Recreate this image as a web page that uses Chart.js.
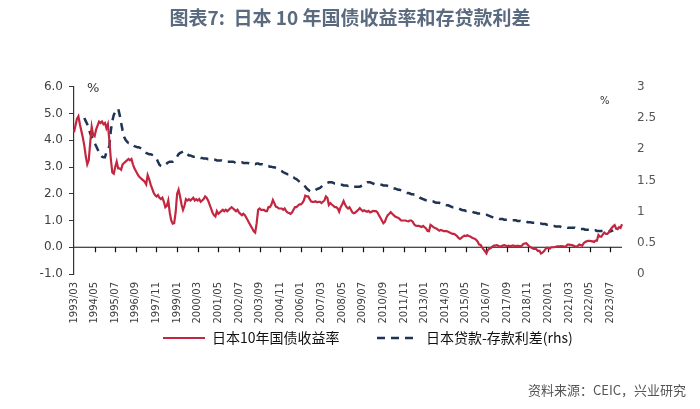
<!DOCTYPE html>
<html>
<head>
<meta charset="utf-8">
<script src="https://cdn.jsdelivr.net/npm/chart.js@4.4.0/dist/chart.umd.min.js"></script>
<style>
  html, body { margin: 0; padding: 0; background: #fff; }
</style>
</head>
<body>
<canvas id="chart" width="700" height="409"></canvas>
<script>
// 月度类别：1993/03 - 2024/03
const months = [];
for (let y = 1993, m = 3; months.length < 373; m++) {
  if (m > 12) { m = 1; y++; }
  months.push(y + '/' + String(m).padStart(2, '0'));
}
// 每 14 个月显示一个刻度标签
const tickEvery = 14;

// 日本10年国债收益率 (%, 左轴)，按年分行
const jgb10y = [
  4.3, 4.55, 4.8, 4.9, 4.6, 4.35, 4.1, 3.8, 3.4, 3.1,                     // 1993/03-12
  3.25, 3.9, 4.5, 4.2, 4.15, 4.4, 4.55, 4.7, 4.65, 4.7, 4.6, 4.65,        // 1994
  4.45, 4.6, 4.0, 3.3, 2.8, 2.75, 3.0, 3.2, 2.95, 2.95, 2.9, 3.1,         // 1995
  3.15, 3.2, 3.25, 3.3, 3.25, 3.3, 3.1, 2.95, 2.85, 2.75, 2.65, 2.6,      // 1996
  2.55, 2.5, 2.45, 2.35, 2.7, 2.55, 2.35, 2.2, 2.05, 1.95, 1.9, 1.95,     // 1997
  1.85, 1.8, 1.85, 1.7, 1.5, 1.55, 1.75, 1.3, 1.0, 0.88, 0.9, 1.3,        // 1998
  2.0, 2.15, 1.9, 1.6, 1.4, 1.55, 1.8, 1.75, 1.8, 1.75, 1.8, 1.85,        // 1999
  1.75, 1.8, 1.75, 1.8, 1.7, 1.75, 1.8, 1.9, 1.85, 1.75, 1.6, 1.45,       // 2000
  1.3, 1.2, 1.15, 1.35, 1.25, 1.3, 1.35, 1.4, 1.35, 1.4, 1.35, 1.4,       // 2001
  1.45, 1.5, 1.45, 1.4, 1.35, 1.4, 1.3, 1.25, 1.2, 1.25, 1.2, 1.1,        // 2002
  1.0, 0.9, 0.8, 0.7, 0.6, 0.55, 0.9, 1.4, 1.45, 1.4, 1.4, 1.4,           // 2003
  1.35, 1.35, 1.5, 1.5, 1.6, 1.77, 1.65, 1.52, 1.5, 1.45, 1.45, 1.45,     // 2004
  1.4, 1.45, 1.35, 1.3, 1.28, 1.25, 1.3, 1.4, 1.5, 1.5, 1.55, 1.6,        // 2005
  1.6, 1.65, 1.75, 1.93, 1.9, 1.9, 1.8, 1.71, 1.7, 1.7, 1.72, 1.68,       // 2006
  1.7, 1.7, 1.65, 1.7, 1.75, 1.9, 1.85, 1.58, 1.65, 1.6, 1.55, 1.5,       // 2007
  1.5, 1.45, 1.33, 1.5, 1.6, 1.73, 1.6, 1.5, 1.45, 1.5, 1.4, 1.3,         // 2008
  1.27, 1.3, 1.35, 1.4, 1.46, 1.4, 1.35, 1.38, 1.35, 1.33, 1.36, 1.3,     // 2009
  1.33, 1.36, 1.35, 1.35, 1.3, 1.2, 1.1, 1.0, 0.9, 0.95, 1.1, 1.2,        // 2010
  1.25, 1.31, 1.25, 1.2, 1.15, 1.12, 1.1, 1.06, 1.0, 1.0, 1.0, 1.0,       // 2011
  0.98, 0.97, 1.0, 1.0, 0.95, 0.85, 0.81, 0.8, 0.8, 0.78, 0.76, 0.8,      // 2012
  0.75, 0.7, 0.61, 0.6, 0.84, 0.8, 0.75, 0.72, 0.7, 0.66, 0.62, 0.65,     // 2013
  0.63, 0.6, 0.6, 0.6, 0.58, 0.55, 0.52, 0.5, 0.5, 0.46, 0.42, 0.35,      // 2014
  0.31, 0.35, 0.4, 0.43, 0.42, 0.45, 0.42, 0.4, 0.36, 0.34, 0.32, 0.28,   // 2015
  0.21, 0.1, 0.09, 0.0, -0.08, -0.15, -0.23, -0.1, -0.05, -0.03, 0.02, 0.06, // 2016
  0.06, 0.08, 0.06, 0.02, 0.04, 0.06, 0.08, 0.06, 0.04, 0.06, 0.04, 0.05, // 2017
  0.07, 0.05, 0.04, 0.05, 0.05, 0.03, 0.06, 0.12, 0.14, 0.15, 0.09, 0.03, // 2018
  0.0, -0.03, -0.06, -0.05, -0.08, -0.14, -0.13, -0.23, -0.2, -0.15, -0.07, -0.02, // 2019
  -0.02, -0.05, 0.0, 0.0, 0.0, 0.02, 0.03, 0.03, 0.03, 0.04, 0.03, 0.02,  // 2020
  0.04, 0.1, 0.1, 0.09, 0.08, 0.06, 0.04, 0.02, 0.05, 0.1, 0.08, 0.06,    // 2021
  0.15, 0.2, 0.22, 0.24, 0.24, 0.23, 0.22, 0.2, 0.25, 0.25, 0.46, 0.4,    // 2022
  0.4, 0.48, 0.55, 0.5, 0.5, 0.55, 0.65, 0.72, 0.78, 0.83, 0.7, 0.68,     // 2023
  0.75, 0.72, 0.86                                                        // 2024/01-03
];

// 日本贷款-存款利差 (%, 右轴)
const loanDepositSpread = [
  null, null, null, null, null, null, null, 2.5, 2.45, 2.4,                // 1993/03-12
  2.35, 2.25, 2.2, 2.15, 2.1, 2.05, 2.0, 1.95, 1.9, 1.88, 1.87, 1.87,     // 1994
  1.95, 2.0, 2.05, 2.3, 2.45, 2.55, 2.6, 2.62, 2.65, 2.55, 2.42, 2.3,     // 1995
  2.2, 2.15, 2.12, 2.1, 2.1, 2.08, 2.07, 2.05, 2.04, 2.03, 2.03, 2.02,    // 1996
  2.0, 1.98, 1.96, 1.94, 1.93, 1.92, 1.92, 1.91, 1.9, 1.88, 1.85, 1.8,    // 1997
  1.75, 1.73, 1.72, 1.73, 1.75, 1.77, 1.79, 1.8, 1.8, 1.8, 1.82, 1.85,    // 1998
  1.88, 1.92, 1.94, 1.95, 1.96, 1.97, 1.95, 1.92, 1.9, 1.9, 1.89, 1.88,   // 1999
  1.88, 1.87, 1.87, 1.87, 1.86, 1.86, 1.85, 1.85, 1.85, 1.84, 1.84, 1.84, // 2000
  1.83, 1.83, 1.83, 1.82, 1.82, 1.82, 1.82, 1.81, 1.81, 1.81, 1.8, 1.8,   // 2001
  1.8, 1.8, 1.8, 1.79, 1.8, 1.8, 1.8, 1.79, 1.79, 1.78, 1.78, 1.78,       // 2002
  1.78, 1.77, 1.77, 1.77, 1.77, 1.76, 1.77, 1.77, 1.76, 1.76, 1.76, 1.75, // 2003
  1.74, 1.73, 1.73, 1.72, 1.72, 1.71, 1.71, 1.7, 1.69, 1.67, 1.66, 1.65,  // 2004
  1.63, 1.62, 1.61, 1.6, 1.6, 1.58, 1.56, 1.55, 1.53, 1.52, 1.5, 1.48,    // 2005
  1.46, 1.44, 1.42, 1.4, 1.37, 1.35, 1.33, 1.32, 1.32, 1.33, 1.35, 1.36,  // 2006
  1.37, 1.38, 1.4, 1.42, 1.44, 1.45, 1.46, 1.47, 1.47, 1.47, 1.46, 1.45,  // 2007
  1.45, 1.44, 1.44, 1.43, 1.43, 1.42, 1.42, 1.42, 1.41, 1.42, 1.41, 1.41, // 2008
  1.4, 1.4, 1.4, 1.4, 1.4, 1.41, 1.42, 1.44, 1.46, 1.47, 1.47, 1.47,      // 2009
  1.46, 1.45, 1.44, 1.44, 1.43, 1.43, 1.43, 1.43, 1.42, 1.42, 1.42, 1.41, // 2010
  1.4, 1.39, 1.38, 1.37, 1.37, 1.36, 1.35, 1.35, 1.34, 1.33, 1.32, 1.31,  // 2011
  1.3, 1.3, 1.29, 1.28, 1.28, 1.27, 1.27, 1.26, 1.24, 1.22, 1.21, 1.2,    // 2012
  1.19, 1.18, 1.18, 1.17, 1.17, 1.16, 1.16, 1.15, 1.14, 1.14, 1.14, 1.13, // 2013
  1.12, 1.12, 1.11, 1.1, 1.1, 1.09, 1.08, 1.07, 1.07, 1.06, 1.06, 1.05,   // 2014
  1.04, 1.03, 1.02, 1.02, 1.01, 1.01, 1.0, 1.0, 1.0, 0.99, 0.98, 0.98,    // 2015
  0.97, 0.97, 0.97, 0.96, 0.96, 0.95, 0.95, 0.94, 0.93, 0.92, 0.91, 0.9,  // 2016
  0.9, 0.89, 0.89, 0.88, 0.88, 0.88, 0.87, 0.87, 0.87, 0.87, 0.87, 0.86,  // 2017
  0.86, 0.86, 0.86, 0.85, 0.85, 0.85, 0.84, 0.84, 0.84, 0.84, 0.83, 0.83, // 2018
  0.83, 0.82, 0.82, 0.82, 0.81, 0.81, 0.81, 0.81, 0.8, 0.8, 0.8, 0.79,    // 2019
  0.79, 0.78, 0.78, 0.77, 0.77, 0.76, 0.76, 0.76, 0.76, 0.75, 0.75, 0.75, // 2020
  0.75, 0.74, 0.74, 0.74, 0.74, 0.74, 0.74, 0.73, 0.73, 0.73, 0.72, 0.72, // 2021
  0.72, 0.71, 0.71, 0.71, 0.71, 0.7, 0.7, 0.7, 0.7, 0.69, 0.69, 0.69,     // 2022
  0.69, 0.69, 0.68, 0.68, 0.68, 0.68, 0.68, 0.69, 0.7, null, null, null,  // 2023
  null, null, null                                                        // 2024/01-03
];

const seriesNames = ['日本10年国债收益率', '日本贷款-存款利差(rhs)'];
const titleText = '图表7:  日本 10 年国债收益率和存贷款利差';
const sourceText = '资料来源：CEIC，兴业研究';

const CJK = '"Noto Sans CJK SC", "Noto Sans", sans-serif';
const NUM = '"DejaVu Sans", sans-serif';

// 零轴线、刻度、单位和图例/来源文字
const decor = {
  id: 'decor',
  beforeDatasetsDraw(chart) {
    const { ctx, chartArea, scales: { x, y } } = chart;
    const y0 = y.getPixelForValue(0);
    ctx.save();
    ctx.strokeStyle = '#111';
    ctx.lineWidth = 1.2;
    ctx.beginPath();
    ctx.moveTo(chartArea.left, y0);
    ctx.lineTo(chartArea.right, y0);
    months.forEach((m, i) => {
      if (i % tickEvery === 0 && i > 0) {
        const px = Math.round(x.getPixelForValue(i)) + 0.5;
        ctx.moveTo(px, y0);
        ctx.lineTo(px, y0 + 5);
      }
    });
    ctx.stroke();
    ctx.restore();
  },
  afterDraw(chart) {
    const { ctx } = chart;
    ctx.save();
    // 单位
    ctx.fillStyle = '#333';
    ctx.font = '13px ' + NUM;
    ctx.textBaseline = 'middle';
    ctx.fillText('%', 87, 89);
    ctx.font = '10px ' + NUM;
    ctx.fillText('%', 600, 101);

    // 图例
    const ly = 338;
    const items = [
      { ds: 0, x: 163 },
      { ds: 1, x: 377 }
    ];
    items.forEach(it => {
      const ds = chart.data.datasets[it.ds];
      ctx.strokeStyle = ds.borderColor;
      ctx.lineWidth = ds.borderWidth;
      ctx.setLineDash(ds.borderDash || []);
      ctx.beginPath();
      ctx.moveTo(it.x, ly);
      ctx.lineTo(it.x + 42, ly);
      ctx.stroke();
      ctx.setLineDash([]);
      ctx.fillStyle = '#111';
      ctx.font = '14px ' + CJK;
      ctx.textAlign = 'left';
      ctx.fillText(ds.label, it.x + 49, ly);
    });

    // 资料来源
    ctx.font = '13px ' + CJK;
    ctx.fillStyle = '#555';
    ctx.textAlign = 'right';
    ctx.fillText(sourceText, 686, 390);
    ctx.restore();
  }
};

new Chart(document.getElementById('chart'), {
  type: 'line',
  data: {
    labels: months,
    datasets: [
      {
        label: seriesNames[0],
        data: jgb10y,
        yAxisID: 'y',
        borderColor: '#c2273f',
        borderWidth: 2.2,
        pointRadius: 0,
        tension: 0
      },
      {
        label: seriesNames[1],
        data: loanDepositSpread,
        yAxisID: 'y1',
        borderColor: '#1f3354',
        borderWidth: 2.5,
        borderDash: [8, 6],
        pointRadius: 0,
        tension: 0
      }
    ]
  },
  options: {
    responsive: false,
    animation: false,
    layout: { padding: { left: 0, right: 0, top: 0, bottom: 80 } },
    plugins: {
      legend: { display: false },
      tooltip: { enabled: false },
      title: {
        display: true,
        text: titleText,
        color: '#5a6a7f',
        font: { family: CJK, size: 19, weight: 'bold' },
        padding: { top: 6, bottom: 58 }
      }
    },
    scales: {
      x: {
        grid: { display: false, drawTicks: false },
        border: { display: false },
        ticks: {
          autoSkip: false,
          minRotation: 90,
          maxRotation: 90,
          padding: 8,
          color: '#404040',
          font: { family: NUM, size: 10 },
          callback: (v, i) => (i % tickEvery === 0 ? months[i] : null)
        },
        afterFit: s => { s.height = 55; }
      },
      y: {
        position: 'left',
        min: -1,
        max: 6,
        ticks: {
          stepSize: 1,
          padding: 6,
          color: '#404040',
          font: { family: NUM, size: 12 },
          callback: v => v.toFixed(1)
        },
        grid: { drawOnChartArea: false, tickLength: 5, color: '#333' },
        border: { display: true, color: '#333', width: 1.2 },
        afterFit: s => { s.width = 74; }
      },
      y1: {
        position: 'right',
        min: 0,
        max: 3,
        ticks: {
          stepSize: 0.5,
          padding: 15,
          color: '#555',
          font: { family: NUM, size: 12 },
          callback: v => String(v)
        },
        grid: { display: false, drawTicks: false },
        border: { display: false },
        afterFit: s => { s.width = 78; }
      }
    }
  },
  plugins: [decor]
});
</script>
</body>
</html>
